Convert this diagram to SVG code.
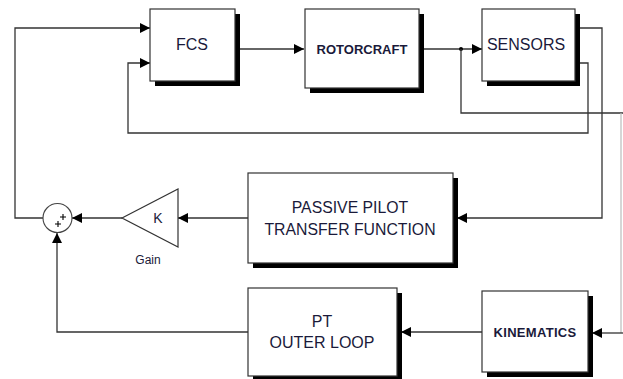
<svg xmlns="http://www.w3.org/2000/svg" width="623" height="379" viewBox="0 0 623 379">
<style>
.box{fill:#fff;stroke:#333;stroke-width:1.2}
.sh{fill:#000}
.ln{fill:none;stroke:#333;stroke-width:1.3}
.t{font-family:"Liberation Sans",Arial,sans-serif;fill:#1a1a3a;text-anchor:middle}
.b{font-weight:bold}
</style>
<defs>
<marker id="ah" viewBox="0 0 10 10" refX="10" refY="5" markerWidth="10" markerHeight="10" markerUnits="userSpaceOnUse" orient="auto">
<path d="M0,0 L10,5 L0,10 z" fill="#000"/>
</marker>
</defs>
<rect width="623" height="379" fill="#fff"/>
<g id="connectors">
<path class="ln" d="M235,49 H304" marker-end="url(#ah)"/>
<path class="ln" d="M423,49 H482" marker-end="url(#ah)"/>
<circle cx="461" cy="49" r="2" fill="#000"/>
<path class="ln" d="M461,49 V113 H623"/>
<path fill="none" stroke="#bbb" stroke-width="1.2" d="M621,113 V333"/>
<path class="ln" d="M623,333 H592" marker-end="url(#ah)"/>
<path class="ln" d="M579,28 H602 V218 H457" marker-end="url(#ah)"/>
<path class="ln" d="M579,63 H588 V133 H128 V63 H150" marker-end="url(#ah)"/>
<path class="ln" d="M248,218 H178" marker-end="url(#ah)"/>
<path class="ln" d="M122,218 H72" marker-end="url(#ah)"/>
<path class="ln" d="M43,218 H15 V28 H150" marker-end="url(#ah)"/>
<path class="ln" d="M482,332 H401" marker-end="url(#ah)"/>
<path class="ln" d="M248,332 H57 V233" marker-end="url(#ah)"/>
</g>
<g id="fcs">
<rect class="sh" x="155" y="14" width="85" height="72"/>
<rect class="box" x="150" y="9" width="85" height="72"/>
<text class="t" x="192" y="50" font-size="16">FCS</text>
</g>
<g id="rotorcraft">
<rect class="sh" x="310" y="14" width="114" height="79"/>
<rect class="box" x="305" y="9" width="114" height="79"/>
<text class="t b" x="362" y="54" font-size="13">ROTORCRAFT</text>
</g>
<g id="sensors">
<rect class="sh" x="487" y="14" width="93" height="72"/>
<rect class="box" x="482" y="9" width="93" height="72"/>
<text class="t" x="526" y="50" font-size="16">SENSORS</text>
</g>
<g id="passive">
<rect class="sh" x="253" y="178" width="205" height="90"/>
<rect class="box" x="248" y="173" width="205" height="90"/>
<text class="t" x="350" y="213" font-size="15.8">PASSIVE PILOT</text>
<text class="t" x="350" y="235" font-size="15.8">TRANSFER FUNCTION</text>
</g>
<g id="gain">
<path d="M122,218 L178,189 L178,247 Z" fill="#fff" stroke="#333" stroke-width="1.2"/>
<text class="t" x="158" y="223" font-size="14">K</text>
<text class="t" x="148" y="264" font-size="12">Gain</text>
</g>
<g id="sum">
<circle cx="57.5" cy="218" r="14.5" fill="#fff" stroke="#444" stroke-width="1.1"/>
<path d="M60,217 h6 M63,214 v6 M55,224 h6 M58,221 v6" stroke="#000" stroke-width="1.1"/>
</g>
<g id="pt">
<rect class="sh" x="253" y="293" width="149" height="88"/>
<rect class="box" x="248" y="288" width="149" height="88"/>
<text class="t" x="322" y="327" font-size="16">PT</text>
<text class="t" x="322" y="348" font-size="16">OUTER LOOP</text>
</g>
<g id="kinematics">
<rect class="sh" x="487" y="296" width="106" height="81"/>
<rect class="box" x="482" y="291" width="106" height="81"/>
<text class="t b" x="535" y="337" font-size="13" letter-spacing="0.3">KINEMATICS</text>
</g>
</svg>
